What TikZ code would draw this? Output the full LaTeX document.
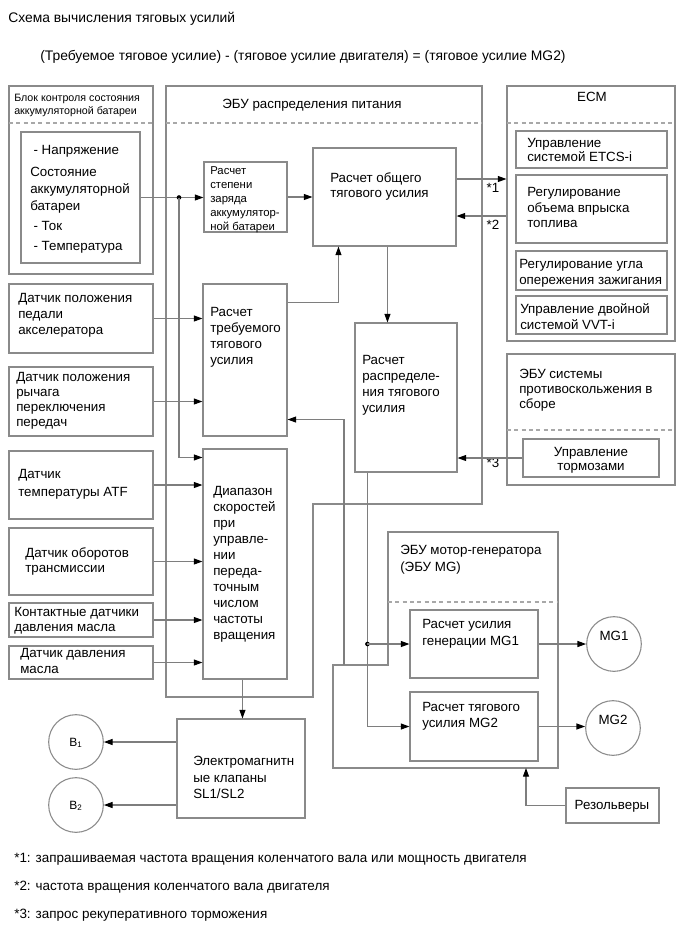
\documentclass[tikz,border=0pt]{standalone}
\usepackage{fontspec}
\setmainfont{Liberation Sans}
\usetikzlibrary{arrows.meta,calc,fit}
\definecolor{bord}{HTML}{8A8A8A}
\definecolor{conn}{HTML}{7E7E7E}
\definecolor{dsh}{HTML}{A8A8A8}
\newcommand{\fsz}[2]{\fontsize{#1pt}{#2pt}\selectfont}
\begin{document}
\begin{tikzpicture}[x=0.75pt,y=-0.75pt,
 box/.style={draw=bord, line width=0.8pt, inner sep=0pt},
 frame/.style={draw=bord, line width=0.8pt},
 dline/.style={draw=dsh, line width=0.8pt, dash pattern=on 3pt off 2.5pt},
 conn/.style={draw=conn, line width=0.8pt, -{Triangle[length=6.5pt,width=4.5pt,color=black]}},
 txt/.style={inner sep=0pt, align=left, anchor=base west, font=\fsz{10}{12}},
 ctxt/.style={inner sep=0pt, align=center, anchor=base, font=\fsz{10}{12}},
 circ/.style={draw=bord, line width=0.8pt, circle, inner sep=0pt, minimum size=41pt},
 dot/.style={circle, fill=black, inner sep=0pt, minimum size=3.5pt}
]
\useasboundingbox (0,0) rectangle (689,951);

% header
\node[txt, font=\fsz{10.4}{12}] (title) at (8,22) {Схема вычисления тяговых усилий};
\node[txt, font=\fsz{10.4}{12}] (formula) at (40,60) {(Требуемое тяговое усилие) - (тяговое усилие двигателя) = (тяговое усилие MG2)};

% battery block
\draw[frame] (9,86) rectangle (153,274);
\draw[dline] (9,123) -- (153,123);
\node[txt, font=\fsz{8}{9.75}] (batT) at (14,114) {Блок контроля состояния\\аккумуляторной батареи};
\node[box, fit={(21,132) (140,263)}] (batin) {};
\node[txt, font=\fsz{10}{12.75}] (batinT) at (30,250) {\hspace*{2.5pt}- Напряжение\\[3.75pt]Состояние\\аккумуляторной\\батареи\\[2.25pt]\hspace*{2.5pt}- Ток\\[2.25pt]\hspace*{2.5pt}- Температура};

% power distribution ECU
\draw[frame] (166,86) -- (482,86) -- (482,504) -- (313,504) -- (313,697) -- (166,697) -- cycle;
\draw[dline] (166,123) -- (482,123);
\node[ctxt] (ebuT) at (312,108) {ЭБУ распределения питания};

\node[box, fit={(204,162) (287,232)}] (soc) {};
\node[txt, font=\fsz{8.5}{10.5}] (socT) at (210,230.5) {Расчет\\степени\\заряда\\аккумулятор-\\ной батареи};

\node[box, fit={(313,148) (456,246)}] (total) {};
\node[txt, font=\fsz{10}{11.7}] (totalT) at (330,197.6) {Расчет общего\\тягового усилия};

\node[box, fit={(203,284) (287,436)}] (req) {};
\node[txt, font=\fsz{10}{12.2}] (reqT) at (210,364.8) {Расчет\\требуемого\\тягового\\усилия};

\node[box, fit={(355,323) (457,472)}] (dist) {};
\node[txt, font=\fsz{10}{12.2}] (distT) at (362,412.8) {Расчет\\распределе-\\ния тягового\\усилия};

\node[box, fit={(203,449) (287,679)}] (range) {};
\node[txt] (rangeT) at (213,639) {Диапазон\\скоростей\\при\\управле-\\нии\\переда-\\точным\\числом\\частоты\\вращения};

% sensors
\node[box, fit={(9,284) (153,353)}] (pedal) {};
\node[txt] (pedalT) at (18,334) {Датчик положения\\педали\\акселератора};
\node[box, fit={(9,367) (153,436)}] (gear) {};
\node[txt, font=\fsz{10}{11.25}] (gearT) at (16,426) {Датчик положения\\рычага\\переключения\\передач};
\node[box, fit={(9,451) (153,519)}] (atf) {};
\node[txt, font=\fsz{10}{13}] (atfT) at (18,496.3) {Датчик\\температуры ATF};
\node[box, fit={(9,528) (153,595)}] (tspd) {};
\node[txt, font=\fsz{10}{11.25}] (tspdT) at (25,572) {Датчик оборотов\\трансмиссии};
\node[box, fit={(9,603) (153,637)}] (cont) {};
\node[txt, font=\fsz{10}{11.25}] (contT) at (14,631) {Контактные датчики\\давления масла};
\node[box, fit={(9,646) (153,679)}] (pres) {};
\node[txt] (presT) at (20,673) {Датчик давления\\масла};

% ECM
\node[box, fit={(507,86) (675,341)}] (ecm) {};
\draw[dline] (507,123) -- (675,123);
\node[ctxt] (ecmT) at (592,101) {ECM};
\node[box, fit={(516,131) (667,168)}] (etcs) {};
\node[txt, font=\fsz{10}{11}] (etcsT) at (527,161.7) {Управление\\системой ETCS-i};
\node[box, fit={(516,175) (667,243)}] (fuel) {};
\node[txt, font=\fsz{10}{11.6}] (fuelT) at (527,227.9) {Регулирование\\объема впрыска\\топлива};
\node[box, fit={(516,251) (667,290)}] (ign) {};
\node[txt] (ignT) at (519,284) {Регулирование угла\\опережения зажигания};
\node[box, fit={(516,296) (667,334)}] (vvt) {};
\node[txt] (vvtT) at (520,329) {Управление двойной\\системой VVT-i};

% skid control ECU
\node[box, fit={(507,354) (675,485)}] (skid) {};
\draw[dline] (507,430) -- (675,430);
\node[txt, font=\fsz{10}{11.25}] (skidT) at (519,408) {ЭБУ системы\\противоскольжения в\\сборе};
\node[box, fit={(523,439) (659,477)}] (brake) {};
\node[ctxt, font=\fsz{10}{10.5}] (brakeT) at (591,470) {Управление\\тормозами};

% MG ECU
\draw[frame] (388,532) -- (558,532) -- (558,768) -- (333,768) -- (333,665) -- (388,665) -- cycle;
\draw[dline] (388,602) -- (558,602);
\node[txt, font=\fsz{10}{12.75}] (mgT) at (400,571) {ЭБУ мотор-генератора\\(ЭБУ MG)};
\node[box, fit={(410,610) (538,678)}] (mg1b) {};
\node[txt, font=\fsz{10}{12.75}] (mg1bT) at (422,645) {Расчет усилия\\генерации MG1};
\node[box, fit={(410,692) (538,761)}] (mg2b) {};
\node[txt] (mg2bT) at (422,727) {Расчет тягового\\усилия MG2};
\node[circ] (mg1c) at (614,644) {};
\node[ctxt] (mg1cT) at (614,640) {MG1};
\node[circ] (mg2c) at (613,728) {};
\node[ctxt] (mg2cT) at (613,724) {MG2};

% valves
\node[box, fit={(177,719) (305,818)}] (valves) {};
\node[txt, font=\fsz{10}{12.2}] (valvesT) at (193,798.5) {Электромагнитн\\ые клапаны\\SL1/SL2};
\node[circ] (b1) at (76,742) {};
\node[ctxt, font=\fsz{9}{10}] (b1T) at (76,746) {B\textsubscript{1}};
\node[circ] (b2) at (76,805) {};
\node[ctxt, font=\fsz{9}{10}] (b2T) at (76,809) {B\textsubscript{2}};

% resolvers
\node[box, fit={(566,788) (659,823)}] (res) {};
\node[ctxt] (resT) at (612,809) {Резольверы};

% labels
\node[ctxt] (l1) at (493,192) {*1};
\node[ctxt] (l2) at (493,229) {*2};
\node[ctxt] (l3) at (493,467) {*3};

% footnotes
\node[txt, font=\fsz{10.1}{12}] (fn1) at (14,862) {*1: запрашиваемая частота вращения коленчатого вала или мощность двигателя};
\node[txt, font=\fsz{10.1}{12}] (fn2) at (14,890) {*2: частота вращения коленчатого вала двигателя};
\node[txt, font=\fsz{10.1}{12}] (fn3) at (14,918) {*3: запрос рекуперативного торможения};

% connectors
\coordinate (dotA) at (179,0 |- batin.east);
\draw[conn] (batin.east) -- (soc.west |- batin.east);
\node[dot] (dA) at (dotA) {};
\draw[conn] (dotA) |- ($(range.north west)+(0,9)$);
\draw[conn] (soc.east) -- (total.west |- soc.east);
\coordinate (s1) at ($(total.east)+(0,-18)$);
\coordinate (s2) at ($(total.east)+(0,19)$);
\draw[conn] (s1) -- (s1 -| ecm.west);
\draw[conn] (s2 -| ecm.west) -- (s2);

\draw[conn] (pedal.east) -- (pedal.east -| req.west);
\draw[conn] (gear.east) -- (gear.east -| req.west);
\draw[conn] (atf.east) -- (atf.east -| range.west);
\draw[conn] (tspd.east) -- (tspd.east -| range.west);
\draw[conn] (cont.east) -- (cont.east -| range.west);
\draw[conn] (pres.east) -- (pres.east -| range.west);

\coordinate (r1) at ($(req.north east)+(0,19)$);
\draw[conn] (r1) -| ($(total.south west)+(26,0)$);
\coordinate (t3) at ($(total.south west)+(75,0)$);
\draw[conn] (t3) -- (t3 |- dist.north);

\coordinate (notch) at (344,665);
\draw[conn] (notch) |- ($(req.south east)+(0,-17)$);

\draw[conn] (brake.west) -- (brake.west -| dist.east);

\coordinate (d1) at ($(dist.south west)+(13,0)$);
\draw[conn] (d1) |- (mg2b.west);
\node[dot] (dB) at (d1 |- mg1b.west) {};
\draw[conn] (dB.center) -- (mg1b.west);
\draw[conn] (mg1b.east) -- (mg1c.west);
\draw[conn] (mg2b.east) -- (mg2b.east -| mg2c.west);

\coordinate (v1) at ($(range.south west)+(40,0)$);
\draw[conn] (v1) -- (v1 |- valves.north);
\draw[conn] (valves.west |- b1) -- (b1.east);
\draw[conn] (valves.west |- b2) -- (b2.east);

\coordinate (mgb) at (526,768);
\draw[conn] (res.west) -| (mgb);
\end{tikzpicture}
\end{document}
